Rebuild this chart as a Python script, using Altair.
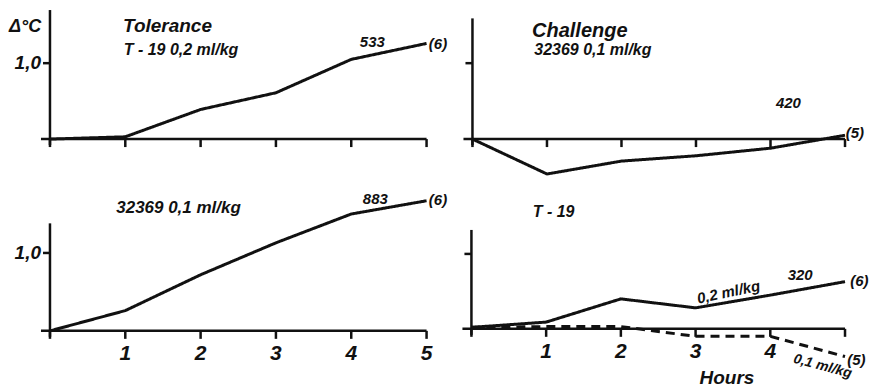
import altair as alt
import pandas as pd

# ---- data ----
hours = [0, 1, 2, 3, 4, 5]
tol_t19_02 = [0.0, 0.03, 0.39, 0.61, 1.05, 1.26]        # Tolerance, T-19 0,2 ml/kg
chal_32369_01 = [0.0, -0.46, -0.29, -0.22, -0.12, 0.05]  # Challenge, 32369 0,1 ml/kg
tol_32369_01 = [0.0, 0.26, 0.72, 1.13, 1.50, 1.67]       # 32369 0,1 ml/kg
chal_t19_02 = [0.02, 0.09, 0.40, 0.28, 0.45, 0.63]       # T-19 0,2 ml/kg
chal_t19_01 = [0.02, 0.03, 0.03, -0.10, -0.10, -0.37]    # T-19 0,1 ml/kg
tick_hours = [0, 1, 2, 3, 4, 5]
tick_labels_left = ["", "1", "2", "3", "4", "5"]
tick_labels_right = ["", "1", "2", "3", "4", ""]
ytick_value = 1.0
ytick_text = "1,0"

FONT = "Liberation Sans"
BLACK = "#111111"


def series_df(values, name, dashed):
    return pd.DataFrame({"h": hours, "v": values, "s": name, "d": dashed})


def make_panel(frames, xdom, ydom, w, h, ytop, show_ylabel, xlabels, notes):
    xs = alt.Scale(domain=xdom, nice=False, zero=False)
    ys = alt.Scale(domain=ydom, nice=False, zero=False)

    def X(v):
        return alt.X(datum=v, type="quantitative", scale=xs, axis=None)

    def Y(v):
        return alt.Y(datum=v, type="quantitative", scale=ys, axis=None)

    one = pd.DataFrame({"a": [0]})
    ticks = pd.DataFrame({"h": tick_hours, "lab": xlabels if xlabels else [""] * len(tick_hours)})
    layers = []
    # y axis line
    layers.append(alt.Chart(one).mark_rule(color=BLACK, strokeWidth=2.5, y2Offset=6)
                  .encode(x=X(0), y=Y(ytop), y2=alt.Y2(datum=0)))
    # x axis line
    layers.append(alt.Chart(one).mark_rule(color=BLACK, strokeWidth=2.5, xOffset=-9)
                  .encode(x=X(0), x2=alt.X2(datum=5), y=Y(0)))
    # x ticks
    layers.append(alt.Chart(ticks).mark_rule(color=BLACK, strokeWidth=2.5, y2Offset=8)
                  .encode(x=alt.X("h:Q", scale=xs, axis=None), y=Y(0), y2=alt.Y2(datum=0)))
    # y tick
    layers.append(alt.Chart(one).mark_rule(color=BLACK, strokeWidth=2.5, x2Offset=-7)
                  .encode(x=X(0), x2=alt.X2(datum=0), y=Y(ytick_value)))
    if show_ylabel:
        layers.append(alt.Chart(one).mark_text(text=ytick_text, align="right", baseline="middle",
                                               dx=-9, font=FONT, fontSize=19, fontWeight="bold",
                                               fontStyle="italic", color=BLACK)
                      .encode(x=X(0), y=Y(ytick_value)))
    if xlabels:
        layers.append(alt.Chart(ticks).mark_text(align="center", baseline="middle", dy=23,
                                                 font=FONT, fontSize=21, fontWeight="bold",
                                                 fontStyle="italic", color=BLACK)
                      .encode(x=alt.X("h:Q", scale=xs, axis=None), y=Y(0), text="lab:N"))
    # data lines
    for fr in frames:
        dash = [9, 6] if fr["d"].iloc[0] else [1, 0]
        layers.append(alt.Chart(fr).mark_line(color=BLACK, strokeWidth=3, strokeDash=dash,
                                              strokeJoin="round")
                      .encode(x=alt.X("h:Q", scale=xs, axis=None),
                              y=alt.Y("v:Q", scale=ys, axis=None)))
    # annotations
    for (txt, hx, vy, align, size, angle) in notes:
        kw = dict(text=txt, align=align, baseline="middle", font=FONT, fontSize=size,
                  fontWeight="bold", fontStyle="italic", color=BLACK)
        if angle:
            kw["angle"] = angle
        layers.append(alt.Chart(one).mark_text(**kw).encode(x=X(hx), y=Y(vy)))
    return alt.layer(*layers).properties(width=w, height=h)


tl = make_panel(
    [series_df(tol_t19_02, "T-19 0,2", False)],
    [-0.544, 5.185], [-0.671, 1.724], 432, 182, 1.70, True, None,
    [("Δ°C", -0.33, 1.47, "center", 18, 0),
     ("Tolerance", 0.97, 1.49, "left", 19, 0),
     ("T - 19  0,2 ml/kg", 0.98, 1.17, "left", 16, 0),
     ("533", 4.28, 1.28, "center", 15, 0),
     ("(6)", 5.03, 1.25, "left", 15, 0)])

tr = make_panel(
    [series_df(chal_32369_01, "32369 0,1", False)],
    [-0.429, 5.322], [-0.671, 1.724], 429, 182, 1.59, False, None,
    [("Challenge", 0.80, 1.43, "left", 20, 0),
     ("32369  0,1 ml/kg", 0.83, 1.17, "left", 16, 0),
     ("420", 4.24, 0.47, "center", 15, 0),
     ("(5)", 5.01, 0.08, "left", 15, 0)])

bl = make_panel(
    [series_df(tol_32369_01, "32369 0,1", False)],
    [-0.544, 5.185], [-0.705, 1.808], 432, 196, 1.38, True, tick_labels_left,
    [("32369  0,1 ml/kg", 0.88, 1.58, "left", 17, 0),
     ("883", 4.32, 1.69, "center", 15, 0),
     ("(6)", 5.03, 1.68, "left", 15, 0)])

br = make_panel(
    [series_df(chal_t19_02, "T-19 0,2", False), series_df(chal_t19_01, "T-19 0,1", True)],
    [-0.414, 5.321], [-0.76, 1.853], 429, 196, 1.32, False, tick_labels_right,
    [("T - 19", 0.82, 1.56, "left", 16, 0),
     ("0,2 ml/kg", 3.44, 0.49, "center", 15, 348),
     ("320", 4.40, 0.72, "center", 15, 0),
     ("(6)", 5.07, 0.64, "left", 15, 0),
     ("0,1 ml/kg", 4.70, -0.50, "center", 14, 15),
     ("(5)", 5.03, -0.41, "left", 15, 0),
     ("Hours", 3.42, -0.65, "center", 19, 0)])

chart = alt.concat(tl, tr, bl, br, columns=2, spacing=0, bounds="flush").properties(
    padding=0, background="white"
).configure_view(strokeWidth=0, stroke="transparent")

chart.save("out.html", embed_options={"renderer": "svg", "actions": False})
